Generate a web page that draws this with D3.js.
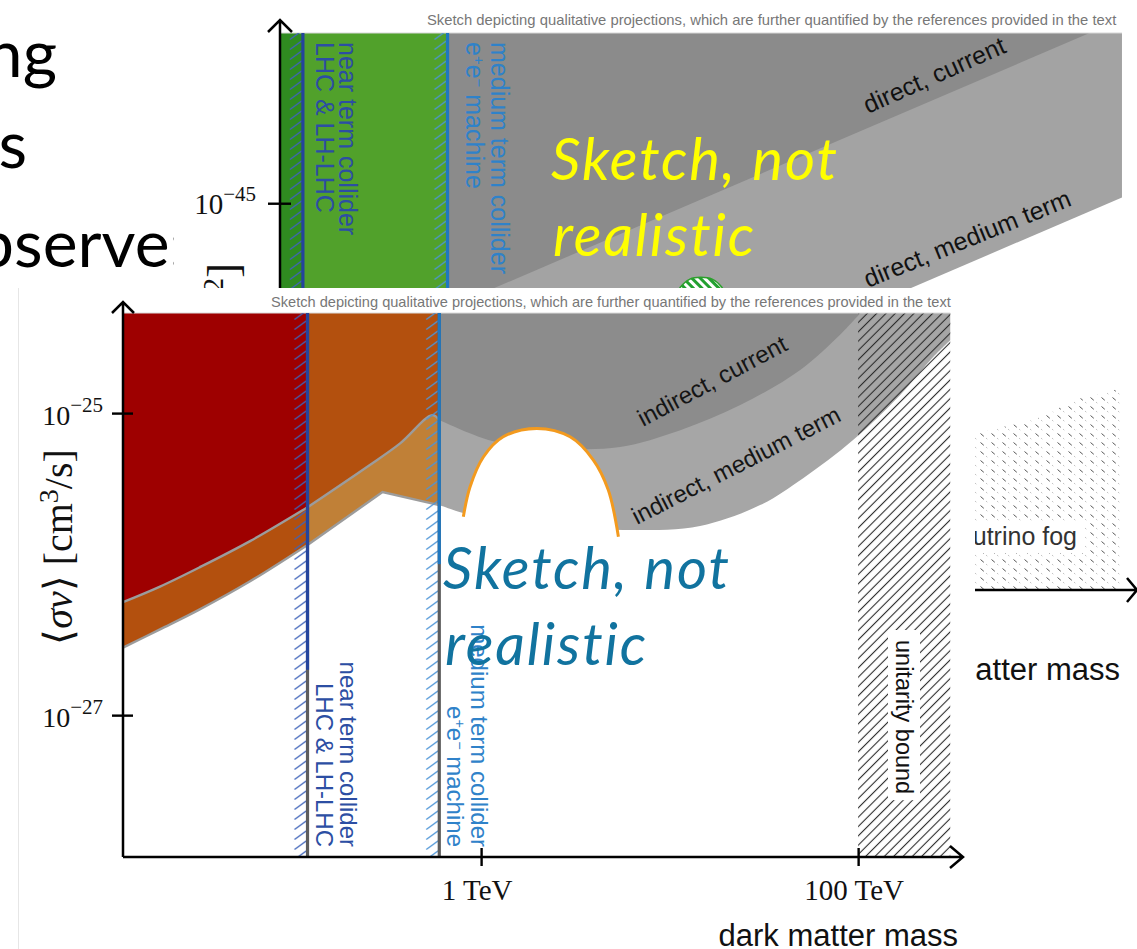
<!DOCTYPE html>
<html>
<head>
<meta charset="utf-8">
<script src="https://cdn.jsdelivr.net/npm/d3@7/dist/d3.min.js"></script>
<style>
  html, body { margin: 0; padding: 0; background: #fff; }
  svg { display: block; }
</style>
</head>
<body>
<svg id="slide" width="1137" height="949"></svg>
<script>
// ---------------- slide text ----------------
const slideLines = ["ng", "s", "observe:"];

// ---------------- shared sketch annotations ----------------
const colliderReach = [120, 600];                       // GeV
const colliderLabels = [["near term collider", "LHC & LH-LHC"], ["medium term collider", "e+e- machine"]];
const captionText = "Sketch depicting qualitative projections, which are further quantified by the references provided in the text";
const sketchNote = ["Sketch, not", "realistic"];

// ---------------- direct detection sketch (mass [GeV], sigma [cm^2]) ----------------
const sigmaTicks = [1e-45];
const directCurrent = [[600, 2.1e-46], [7.6e5, 1.26e-44]];
const directMedium = [[600, 1.46e-47], [1.09e6, 1.09e-45]];
const neutrinoFog = [[9.2e4, 2.53e-47], [2.13e5, 3.26e-47], [4.38e5, 4.14e-47], [6.47e5, 5.33e-47], [1.09e6, 6.37e-47]];
const greenBump = [[7500, 2.36e-46], [8000, 2.86e-46], [8900, 3.23e-46], [1.0e4, 3.32e-46], [1.14e4, 3.23e-46], [1.27e4, 2.86e-46], [1.35e4, 2.36e-46]];

// ---------------- annihilation sketch (mass [GeV], <sigma v> [cm^3/s]) ----------------
const massTicks = [1e3, 1e5];
const massTickLabels = ["1 TeV", "100 TeV"];
const svTicks = [1e-25, 1e-27];
const svTickExps = ["\u221225", "\u221227"];
const currentLow = [[12.6, 5.6e-27], [19.8, 7.1e-27], [32, 9.5e-27], [59.5, 1.42e-26], [120, 2.38e-26]];
const currentHigh = [[120, 2.38e-26], [248, 4.4e-26], [372, 6.3e-26], [550, 9.7e-26], [600, 9.0e-26]];
const projectedLow = [[12.6, 2.8e-27], [19.8, 3.7e-27], [32, 5.0e-27], [59.5, 7.7e-27], [120, 1.34e-26]];
const projectedHigh = [[120, 1.34e-26], [300, 3.0e-26], [600, 2.46e-26]];
const indirectCurrent = [[600, 9.0e-26], [988, 6.93e-26], [1610, 5.96e-26], [2970, 5.78e-26], [5460, 5.96e-26], [1.14e4, 7.71e-26], [2.37e4, 1.13e-25], [4.93e4, 1.93e-25], [8.0e4, 3.29e-25], [1.03e5, 4.6e-25]];
const indirectMedium = [[600, 2.46e-26], [803, 2.18e-26], [1260, 1.95e-26], [2410, 1.81e-26], [6400, 1.68e-26], [1.45e4, 1.79e-26], [3.02e4, 2.46e-26], [5.11e4, 3.71e-26], [9.4e4, 6.63e-26], [1.67e5, 1.32e-25], [2.5e5, 2.35e-25], [3.08e5, 3.04e-25]];
const bumpArc = [[805, 2.06e-26], [874, 3.25e-26], [1030, 5.14e-26], [1310, 6.97e-26], [1975, 7.92e-26], [2965, 6.97e-26], [3940, 4.89e-26], [4730, 3.09e-26], [5350, 1.52e-26]];
const unitarityMass = 1e5;
const blueDownTo = [2e-27, 1e-26];

// ---------------- setup ----------------
const W = 1137, H = 949;
const svg = d3.select("#slide");
const defs = svg.append("defs");
const SANS = "'Liberation Sans', Arial, sans-serif";
const SERIF = "'Liberation Serif', 'Times New Roman', serif";
const SLIDE = "Lato, Carlito, 'Open Sans', sans-serif";
const smooth = d3.curveCatmullRom.alpha(0.5);
const rev = a => a.slice().reverse();

function pathFrom(sx, sy, segs, close = true) {
  return segs.map((s, i) => {
    const p = d3.line().x(d => sx(d[0])).y(d => sy(d[1])).curve(s.curve || d3.curveLinear)(s.pts);
    return i === 0 ? p : "L" + p.slice(1);
  }).join("") + (close ? "Z" : "");
}

function strokePattern(id, xEnd, color) {
  const p = defs.append("pattern").attr("id", id).attr("patternUnits", "userSpaceOnUse")
    .attr("x", xEnd - 14).attr("y", 0).attr("width", 14).attr("height", 10);
  p.append("path").attr("d", "M1,9.5L13,0.8").attr("stroke", color).attr("stroke-width", 1.3).attr("fill", "none");
}

// unitarity hatch
const up = defs.append("pattern").attr("id", "uhatch").attr("patternUnits", "userSpaceOnUse")
  .attr("width", 6.6).attr("height", 6.6).attr("patternTransform", "rotate(-45)");
up.append("line").attr("x1", 0).attr("x2", 6.6).attr("y1", 3.3).attr("y2", 3.3)
  .attr("stroke", "#2a2a2a").attr("stroke-width", 1.1);

// neutrino fog texture
const fp = defs.append("pattern").attr("id", "fog").attr("patternUnits", "userSpaceOnUse")
  .attr("width", 11).attr("height", 9);
fp.append("path").attr("d", "M1.5,1.5L4.8,4.3").attr("stroke", "#555").attr("stroke-width", 1);
fp.append("path").attr("d", "M7,6L8.3,7.2").attr("stroke", "#bbb").attr("stroke-width", 0.9);

// striped green bump
const gp = defs.append("pattern").attr("id", "greenStripe").attr("patternUnits", "userSpaceOnUse")
  .attr("width", 6).attr("height", 6).attr("patternTransform", "rotate(45)");
gp.append("rect").attr("width", 6).attr("height", 6).attr("fill", "#fff");
gp.append("rect").attr("width", 6).attr("height", 3).attr("fill", "#22a030");

// ---------------- slide background + text ----------------
svg.append("rect").attr("width", W).attr("height", H).attr("fill", "#fff");
const slidePos = [[57, 77], [27, 168], [186, 267]];
svg.append("g").selectAll("text").data(slideLines).join("text")
  .attr("x", (d, i) => slidePos[i][0]).attr("y", (d, i) => slidePos[i][1])
  .attr("text-anchor", "end").attr("font-family", SLIDE).attr("font-size", 66)
  .attr("fill", "#000").text(d => d);

// helper for the two collider label lines (second line may contain e+e-)
function colliderText(sel, str) {
  if (str.startsWith("e+e-")) {
    sel.append("tspan").text("e");
    sel.append("tspan").attr("baseline-shift", "super").attr("font-size", "60%").text("+");
    sel.append("tspan").text("e");
    sel.append("tspan").attr("baseline-shift", "super").attr("font-size", "60%").text("\u2212");
    sel.append("tspan").text(str.slice(4));
  } else sel.text(str);
}
const lineBlue = ["#24449c", "#1f77c0"];
const hatchBlue = ["#3d62b8", "#4c94d6"];
const labelBlue = ["#2c4ea3", "#2f82c9"];

// =============== direct detection sketch (behind) ===============
const bx = d3.scaleLog().domain([93, 1.26e6]).range([280, 1135]);
const by = d3.scaleLog().domain([3.16e-48, 1.26e-44]).range([590, 33]);
const B_MIN = 93, B_MAX = 1.09e6, B_TOP = 1.26e-44, B_BOT = 3.16e-48;

const back = svg.append("g");
back.append("rect").attr("x", 174).attr("y", 0).attr("width", W - 174).attr("height", H).attr("fill", "#fff");

back.append("path")
  .attr("d", pathFrom(bx, by, [{ pts: [[600, B_TOP], [B_MAX, B_TOP]] }, { pts: rev(directMedium) }]))
  .attr("fill", "#a3a3a3");
back.append("path")
  .attr("d", pathFrom(bx, by, [{ pts: [[600, B_TOP], [directCurrent[1][0], B_TOP]] }, { pts: rev(directCurrent) }]))
  .attr("fill", "#8b8b8b");
back.append("path")
  .attr("d", pathFrom(bx, by, [{ pts: neutrinoFog, curve: smooth }, { pts: [[B_MAX, B_BOT], [neutrinoFog[0][0], B_BOT]] }]))
  .attr("fill", "url(#fog)");

// collider excluded masses
const greens = ["#2f8b20", "#51a12b"];
[[B_MIN, colliderReach[0]], [colliderReach[0], colliderReach[1]]].forEach((r, i) => {
  back.append("rect").attr("x", bx(r[0])).attr("width", bx(r[1]) - bx(r[0]))
    .attr("y", by(B_TOP)).attr("height", by(B_BOT) - by(B_TOP)).attr("fill", greens[i]);
});
back.append("path").attr("d", pathFrom(bx, by, [{ pts: greenBump, curve: smooth }]))
  .attr("fill", "url(#greenStripe)").attr("stroke", "#2ca02c").attr("stroke-width", 1.5);

back.append("line").attr("x1", bx(B_MIN)).attr("x2", bx(B_MAX)).attr("y1", by(B_TOP)).attr("y2", by(B_TOP))
  .attr("stroke", "#d8d8d8").attr("stroke-width", 1.2);

colliderReach.forEach((m, i) => {
  const x = bx(m);
  strokePattern("bh" + i, x, hatchBlue[i]);
  back.append("rect").attr("x", x - 14).attr("width", 14).attr("y", by(B_TOP))
    .attr("height", by(B_BOT) - by(B_TOP)).attr("fill", `url(#bh${i})`);
  back.append("line").attr("x1", x).attr("x2", x).attr("y1", by(B_TOP)).attr("y2", by(B_BOT))
    .attr("stroke", lineBlue[i]).attr("stroke-width", 3.2);
  const offs = i === 0 ? [36, 13] : [43, 18];
  colliderLabels[i].forEach((s, j) => {
    const t = back.append("text").attr("transform", `translate(${x + offs[j]},${42}) rotate(90)`)
      .attr("font-family", SANS).attr("font-size", 25).attr("fill", labelBlue[i]);
    colliderText(t, s);
  });
});

// detection labels
back.append("text").attr("transform", "translate(868,114) rotate(-24)")
  .attr("font-family", SANS).attr("font-size", 25).attr("fill", "#111").text("direct, current");
back.append("text").attr("transform", "translate(868,288) rotate(-22)")
  .attr("font-family", SANS).attr("font-size", 25).attr("fill", "#111").text("direct, medium term");

// fog label with white backing
const fogLabel = back.append("text").attr("x", 1077).attr("y", 545).attr("text-anchor", "end")
  .attr("font-family", SANS).attr("font-size", 25).attr("fill", "#333").text("neutrino fog");
const fb = fogLabel.node().getBBox();
back.insert("rect", () => fogLabel.node()).attr("x", fb.x - 3).attr("y", fb.y - 1)
  .attr("width", fb.width + 10).attr("height", fb.height + 4).attr("fill", "#fff");

// axes
back.append("path").attr("d", `M${bx(B_MIN)},590V20M268,32L280,20L292,32`)
  .attr("fill", "none").attr("stroke", "#000").attr("stroke-width", 2.5);
back.append("path").attr("d", `M${bx(B_MIN)},590H1137M1127,578L1137,590L1127,602`)
  .attr("fill", "none").attr("stroke", "#000").attr("stroke-width", 2.5);
back.append("g").attr("transform", `translate(${bx(B_MIN) + 11},0)`)
  .call(d3.axisLeft(by).tickValues(sigmaTicks).tickSize(23).tickFormat(""))
  .call(g => g.select(".domain").remove())
  .selectAll("line").attr("stroke", "#000").attr("stroke-width", 2.4);
sigmaTicks.forEach(t => {
  const tx = back.append("text").attr("x", 256).attr("y", by(t) + 11).attr("text-anchor", "end")
    .attr("font-family", SERIF).attr("font-size", 29).attr("fill", "#111");
  tx.append("tspan").text("10");
  tx.append("tspan").attr("dy", -13).attr("font-size", 21).text("\u221245");
});
const byl = back.append("text").attr("transform", "translate(238,263) rotate(-90)").attr("text-anchor", "end")
  .attr("font-family", SERIF).attr("font-size", 44).attr("fill", "#111");
byl.append("tspan").attr("font-style", "italic").text("\u03c3");
byl.append("tspan").text(" [cm");
byl.append("tspan").attr("dy", -15).attr("font-size", 30).text("2");
byl.append("tspan").attr("dy", 15).text("]");
back.append("text").attr("x", 1120).attr("y", 680).attr("text-anchor", "end")
  .attr("font-family", SANS).attr("font-size", 31).attr("fill", "#111").text("dark matter mass");
back.append("text").attr("x", 427).attr("y", 25).attr("font-family", SANS).attr("font-size", 14.8)
  .attr("fill", "#777").text(captionText);

// slide overlay note on this sketch
sketchNote.forEach((s, i) => {
  svg.append("text").attr("x", 551 + i * 2).attr("y", 180 + i * 76)
    .attr("font-family", SLIDE).attr("font-style", "italic").attr("font-size", 58)
    .attr("letter-spacing", 1.9).attr("fill", "#ffff00").text(s);
});

// =============== annihilation sketch (front) ===============
const fx = d3.scaleLog().domain([12.6, 3.6e5]).range([123, 963]);
const fy = d3.scaleLog().domain([1.15e-28, 4.6e-25]).range([857, 313]);
const F_MIN = 12.6, F_MAX = 3.08e5, F_TOP = 4.6e-25, F_BOT = 1.15e-28;

const front = svg.append("g");
front.append("rect").attr("x", 18).attr("y", 288).attr("width", 957).attr("height", H - 288).attr("fill", "#fff");
front.append("line").attr("x1", 18.5).attr("x2", 18.5).attr("y1", 288).attr("y2", H)
  .attr("stroke", "#e6e6e6").attr("stroke-width", 1);

// indirect detection bands
front.append("path")
  .attr("d", pathFrom(fx, fy, [{ pts: [[600, F_TOP], [F_MAX, F_TOP]] }, { pts: rev(indirectMedium), curve: smooth }]))
  .attr("fill", "#a6a6a6");
front.append("path")
  .attr("d", pathFrom(fx, fy, [{ pts: [[600, F_TOP], [indirectCurrent[indirectCurrent.length - 1][0], F_TOP]] }, { pts: rev(indirectCurrent), curve: smooth }]))
  .attr("fill", "#8c8c8c");

// thermal target regions
front.append("path")
  .attr("d", pathFrom(fx, fy, [{ pts: [[F_MIN, F_TOP], [120, F_TOP]] }, { pts: rev(currentLow), curve: smooth }]))
  .attr("fill", "#9e0000");
front.append("path")
  .attr("d", pathFrom(fx, fy, [{ pts: currentLow, curve: smooth }, { pts: rev(projectedLow), curve: smooth }]))
  .attr("fill", "#b3500e");
front.append("path")
  .attr("d", pathFrom(fx, fy, [{ pts: [[120, F_TOP], [600, F_TOP]] }, { pts: rev(currentHigh), curve: smooth }]))
  .attr("fill", "#b3500e");
front.append("path")
  .attr("d", pathFrom(fx, fy, [{ pts: currentHigh, curve: smooth }, { pts: rev(projectedHigh) }]))
  .attr("fill", "#c08037");
[[currentLow, smooth], [currentHigh, smooth], [projectedLow, smooth], [projectedHigh, d3.curveLinear]].forEach(([pts, c]) => {
  front.append("path").attr("d", pathFrom(fx, fy, [{ pts, curve: c }], false))
    .attr("fill", "none").attr("stroke", "#9c9c9c").attr("stroke-width", 2.4);
});

// bump
front.append("path").attr("d", pathFrom(fx, fy, [{ pts: bumpArc, curve: smooth }])).attr("fill", "#fff");
front.append("path").attr("d", pathFrom(fx, fy, [{ pts: bumpArc, curve: smooth }], false))
  .attr("fill", "none").attr("stroke", "#f39a1e").attr("stroke-width", 3);

// unitarity bound
front.append("rect").attr("x", fx(unitarityMass)).attr("width", fx(F_MAX) - fx(unitarityMass))
  .attr("y", fy(F_TOP)).attr("height", fy(F_BOT) - fy(F_TOP)).attr("fill", "url(#uhatch)");
const uLabel = front.append("text").attr("transform", "translate(896,640) rotate(90)")
  .attr("font-family", SANS).attr("font-size", 23.5).attr("fill", "#111").text("unitarity bound");
const ub = uLabel.node().getBoundingClientRect();
front.insert("rect", () => uLabel.node()).attr("x", ub.x - 3).attr("y", ub.y - 10)
  .attr("width", ub.width + 6).attr("height", ub.height + 16).attr("fill", "#fff");

front.append("line").attr("x1", fx(F_MIN)).attr("x2", fx(F_MAX)).attr("y1", fy(F_TOP)).attr("y2", fy(F_TOP))
  .attr("stroke", "#dcdcdc").attr("stroke-width", 1.2);

// collider reach lines
colliderReach.forEach((m, i) => {
  const x = fx(m);
  strokePattern("fh" + i, x, hatchBlue[i]);
  front.append("rect").attr("x", x - 14).attr("width", 14).attr("y", fy(F_TOP))
    .attr("height", fy(F_BOT) - fy(F_TOP)).attr("fill", `url(#fh${i})`);
  front.append("line").attr("x1", x).attr("x2", x).attr("y1", fy(F_TOP)).attr("y2", fy(F_BOT))
    .attr("stroke", "#5c5c5c").attr("stroke-width", 3.2);
  front.append("line").attr("x1", x).attr("x2", x).attr("y1", fy(F_TOP)).attr("y2", fy(blueDownTo[i]))
    .attr("stroke", lineBlue[i]).attr("stroke-width", 3.2);
  const offs = [32, 8];
  colliderLabels[i].forEach((s, j) => {
    const t = front.append("text").attr("transform", `translate(${x + offs[j]},847) rotate(90)`)
      .attr("text-anchor", "end").attr("font-family", SANS).attr("font-size", 24).attr("fill", labelBlue[i]);
    colliderText(t, s);
  });
});

// indirect labels
front.append("text").attr("transform", "translate(643,427) rotate(-28)")
  .attr("font-family", SANS).attr("font-size", 24).attr("fill", "#151515").text("indirect, current");
front.append("text").attr("transform", "translate(637,525) rotate(-27)")
  .attr("font-family", SANS).attr("font-size", 24).attr("fill", "#151515").text("indirect, medium term");

// axes
front.append("path").attr("d", `M${fx(F_MIN)},${fy(F_BOT)}V302M112,313L123,302L134,313`)
  .attr("fill", "none").attr("stroke", "#000").attr("stroke-width", 2.5);
front.append("path").attr("d", `M${fx(F_MIN)},${fy(F_BOT)}H963M950,846L963,857L950,868`)
  .attr("fill", "none").attr("stroke", "#000").attr("stroke-width", 2.5);
front.append("g").attr("transform", `translate(${fx(F_MIN) + 10},0)`)
  .call(d3.axisLeft(fy).tickValues(svTicks).tickSize(21).tickFormat(""))
  .call(g => g.select(".domain").remove())
  .selectAll("line").attr("stroke", "#000").attr("stroke-width", 2.4);
front.append("g").attr("transform", `translate(0,${fy(F_BOT) - 9})`)
  .call(d3.axisBottom(fx).tickValues(massTicks).tickSize(18).tickFormat(""))
  .call(g => g.select(".domain").remove())
  .selectAll("line").attr("stroke", "#000").attr("stroke-width", 2.4);
svTicks.forEach((t, i) => {
  const tx = front.append("text").attr("x", 103).attr("y", fy(t) + 12).attr("text-anchor", "end")
    .attr("font-family", SERIF).attr("font-size", 28).attr("fill", "#111");
  tx.append("tspan").text("10");
  tx.append("tspan").attr("dy", -13).attr("font-size", 21).text(svTickExps[i]);
});
massTicks.forEach((t, i) => {
  front.append("text").attr("x", fx(t) - 4).attr("y", 900).attr("text-anchor", "middle")
    .attr("font-family", SERIF).attr("font-size", 29).attr("fill", "#111").text(massTickLabels[i]);
});
const fyl = front.append("text").attr("transform", "translate(72,547) rotate(-90)").attr("text-anchor", "middle")
  .attr("font-family", SERIF).attr("font-size", 40).attr("fill", "#111");
fyl.append("tspan").text("\u27e8");
fyl.append("tspan").attr("font-style", "italic").text("\u03c3v");
fyl.append("tspan").text("\u27e9 [cm");
fyl.append("tspan").attr("dy", -14).attr("font-size", 28).text("3");
fyl.append("tspan").attr("dy", 14).text("/s]");
front.append("text").attr("x", 958).attr("y", 946).attr("text-anchor", "end")
  .attr("font-family", SANS).attr("font-size", 31).attr("fill", "#111").text("dark matter mass");
front.append("text").attr("x", 271).attr("y", 307).attr("font-family", SANS).attr("font-size", 14.6)
  .attr("fill", "#777").text(captionText);

// slide overlay note on this sketch
sketchNote.forEach((s, i) => {
  svg.append("text").attr("x", 443 + i * 2).attr("y", 589 + i * 76)
    .attr("font-family", SLIDE).attr("font-style", "italic").attr("font-size", 58)
    .attr("letter-spacing", 1.9).attr("fill", "#11739f").text(s);
});
</script>
</body>
</html>
